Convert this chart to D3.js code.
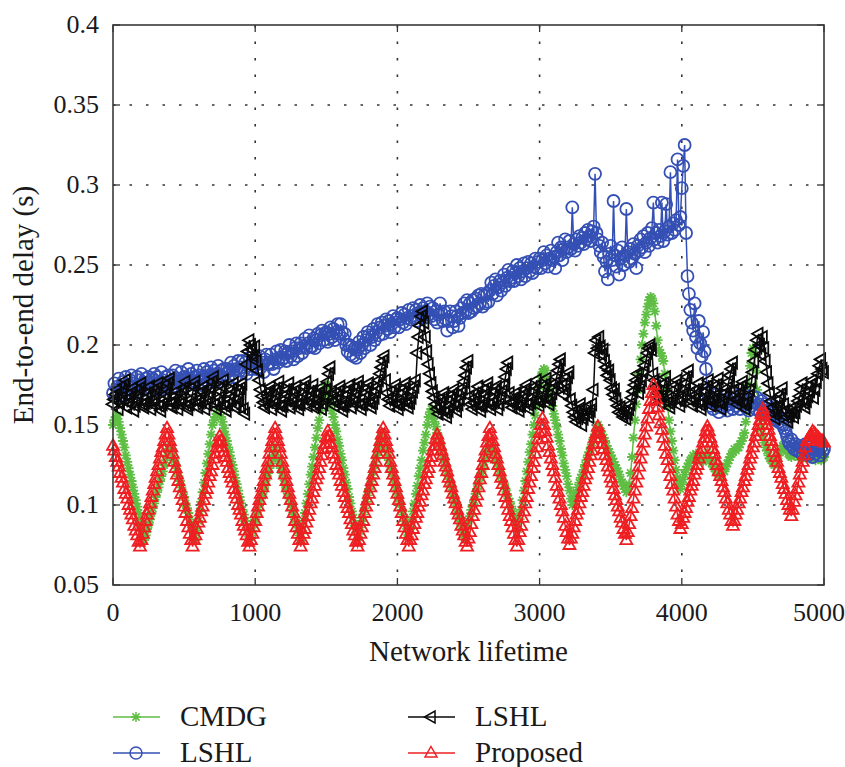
<!DOCTYPE html>
<html>
<head>
<meta charset="utf-8">
<script src="https://cdn.jsdelivr.net/npm/d3@7"></script>
<style>
  body { margin: 0; background: #fff; }
</style>
</head>
<body>
<svg id="chart" width="845" height="767"></svg>
<script>
// sampled every 10 time units, 0..5000
const xValues = d3.range(0, 5001, 10);

const xTicks = [0, 1000, 2000, 3000, 4000, 5000];
const yTicks = [0.05, 0.1, 0.15, 0.2, 0.25, 0.3, 0.35, 0.4];
const yTickLabels = ["0.05", "0.1", "0.15", "0.2", "0.25", "0.3", "0.35", "0.4"];

const seriesNames = ["CMDG", "LSHL", "LSHL", "Proposed"];

const cmdg = [
  .150, .153, .155, .156, .152, .148, .144, .140, .136, .131,
  .127, .123, .119, .115, .111, .107, .103, .099, .095, .090,
  .086, .082, .078, .081, .085, .088, .091, .095, .098, .101,
  .105, .108, .111, .115, .118, .121, .125, .128, .131, .135,
  .138, .135, .131, .128, .125, .121, .118, .115, .111, .108,
  .105, .101, .098, .095, .091, .088, .085, .081, .078, .084,
  .090, .096, .102, .108, .114, .120, .126, .132, .138, .144,
  .150, .153, .155, .157, .158, .158, .155, .152, .148, .144,
  .140, .136, .133, .129, .125, .121, .117, .113, .109, .105,
  .101, .097, .094, .090, .086, .082, .078, .081, .084, .088,
  .091, .094, .097, .101, .104, .107, .110, .113, .117, .120,
  .123, .126, .129, .133, .136, .133, .129, .126, .123, .120,
  .117, .113, .110, .107, .104, .101, .097, .094, .091, .088,
  .084, .081, .078, .084, .090, .095, .101, .107, .113, .119,
  .124, .130, .136, .142, .148, .153, .159, .165, .170, .173,
  .175, .171, .168, .164, .159, .155, .150, .146, .141, .137,
  .132, .128, .123, .119, .114, .110, .105, .101, .096, .092,
  .087, .083, .078, .082, .086, .090, .094, .098, .102, .106,
  .110, .113, .117, .121, .125, .129, .133, .137, .141, .145,
  .142, .138, .135, .131, .128, .124, .121, .118, .114, .111,
  .107, .104, .101, .097, .094, .090, .087, .083, .080, .085,
  .091, .096, .101, .107, .112, .118, .123, .128, .134, .139,
  .144, .150, .155, .158, .160, .156, .152, .149, .145, .142,
  .138, .135, .131, .128, .125, .121, .118, .114, .111, .107,
  .104, .101, .097, .094, .090, .087, .083, .080, .083, .087,
  .090, .093, .097, .100, .103, .107, .110, .113, .117, .120,
  .123, .127, .130, .133, .137, .140, .137, .135, .132, .129,
  .126, .124, .121, .118, .115, .113, .110, .107, .104, .102,
  .099, .096, .093, .091, .088, .085, .091, .097, .103, .109,
  .115, .121, .127, .133, .138, .144, .150, .156, .162, .168,
  .174, .180, .183, .185, .184, .179, .175, .171, .166, .162,
  .157, .153, .149, .144, .140, .135, .131, .126, .122, .118,
  .113, .109, .104, .100, .103, .106, .108, .111, .114, .117,
  .119, .122, .125, .128, .131, .133, .136, .139, .142, .144,
  .147, .150, .148, .146, .144, .142, .140, .137, .135, .133,
  .131, .129, .127, .125, .123, .121, .119, .116, .114, .112,
  .110, .108, .110, .113, .120, .130, .142, .153, .163, .172,
  .182, .191, .200, .207, .214, .219, .224, .228, .230, .229,
  .226, .221, .212, .203, .197, .195, .193, .190, .182, .172,
  .162, .153, .146, .140, .134, .128, .122, .117, .113, .110,
  .113, .116, .119, .122, .124, .126, .128, .129, .131, .130,
  .132, .131, .129, .130, .128, .127, .129, .131, .133, .130,
  .128, .126, .124, .123, .121, .120, .119, .118, .120, .122,
  .121, .124, .126, .128, .130, .132, .133, .135, .134, .136,
  .136, .138, .140, .142, .145, .152, .162, .175, .187, .195,
  .198, .194, .184, .172, .162, .154, .148, .143, .139, .136,
  .134, .131, .129, .128, .126, .125, .127, .129, .131, .133,
  .135, .137, .138, .136, .134, .132, .131, .130, .132, .134,
  .133, .131, .130, .132, .131, .129, .130, .131, .132, .130,
  .129, .131, .130, .129, .128, .130, .131, .129, .128, .129,
  .130
];

const lshlBlue = [
  .170, .176, .168, .174, .179, .173, .169, .177, .174, .180,
  .175, .172, .178, .181, .173, .176, .170, .180, .175, .178,
  .182, .175, .172, .179, .174, .180, .177, .171, .179, .182,
  .175, .180, .172, .177, .183, .178, .173, .180, .175, .181,
  .176, .173, .181, .178, .184, .174, .179, .176, .183, .178,
  .180, .174, .179, .185, .177, .182, .176, .180, .177, .184,
  .178, .181, .175, .180, .185, .178, .183, .177, .181, .186,
  .179, .184, .177, .182, .187, .180, .184, .179, .185, .182,
  .185, .179, .184, .189, .182, .187, .180, .185, .190, .184,
  .186, .190, .184, .189, .182, .187, .192, .185, .190, .187,
  .191, .185, .188, .193, .186, .189, .183, .191, .194, .188,
  .189, .194, .188, .185, .191, .196, .189, .192, .197, .191,
  .192, .196, .190, .195, .200, .193, .196, .191, .198, .201,
  .193, .198, .201, .195, .199, .204, .198, .201, .206, .199,
  .199, .204, .198, .203, .207, .201, .206, .209, .203, .207,
  .208, .202, .207, .211, .205, .210, .203, .208, .213, .207,
  .213, .208, .204, .207, .200, .196, .200, .194, .199, .193,
  .198, .192, .197, .202, .195, .200, .205, .198, .203, .208,
  .206, .200, .205, .210, .203, .208, .213, .206, .211, .214,
  .207, .212, .216, .210, .215, .208, .213, .218, .211, .216,
  .217, .211, .216, .220, .214, .219, .213, .217, .222, .216,
  .218, .223, .217, .222, .215, .220, .225, .218, .223, .217,
  .221, .226, .219, .224, .218, .223, .216, .221, .214, .219,
  .226, .220, .215, .221, .216, .209, .215, .221, .218, .211,
  .215, .221, .218, .212, .217, .223, .220, .226, .221, .228,
  .220, .226, .221, .228, .223, .229, .224, .231, .226, .232,
  .224, .231, .226, .232, .227, .234, .239, .232, .237, .241,
  .231, .236, .240, .234, .239, .244, .237, .242, .247, .240,
  .242, .246, .240, .245, .250, .243, .248, .241, .246, .251,
  .243, .248, .252, .246, .251, .245, .249, .254, .248, .252,
  .254, .248, .253, .258, .251, .256, .249, .254, .259, .253,
  .255, .248, .258, .264, .256, .261, .253, .260, .266, .258,
  .261, .265, .260, .286, .263, .259, .266, .262, .268, .264,
  .267, .263, .270, .266, .272, .268, .265, .271, .274, .307,
  .270, .266, .262, .258, .264, .255, .246, .252, .241, .257,
  .262, .253, .290, .256, .249, .259, .244, .254, .261, .250,
  .256, .285, .258, .252, .260, .254, .263, .257, .248, .262,
  .259, .266, .261, .268, .258, .264, .270, .262, .267, .273,
  .289, .266, .270, .264, .272, .268, .289, .265, .271, .288,
  .269, .274, .308, .270, .276, .272, .278, .316, .275, .280,
  .298, .312, .325, .270, .243, .232, .222, .214, .209, .226,
  .205, .198, .215, .201, .193, .208, .196, .185, .170, .166,
  .162, .167, .160, .164, .169, .163, .158, .166, .161, .165,
  .168, .162, .159, .165, .163, .170, .160, .166, .162, .168,
  .164, .160, .167, .163, .169, .161, .165, .159, .166, .162,
  .168, .164, .160, .167, .163, .158, .165, .161, .157, .163,
  .159, .162, .156, .160, .155, .158, .153, .157, .152, .155,
  .151, .150, .148, .146, .143, .140, .138, .141, .137, .135,
  .138, .134, .137, .133, .136, .132, .135, .138, .134, .131,
  .136, .133, .130, .135, .132, .137, .134, .131, .136, .133,
  .135
];

const lshlBlack = [
  .163, .166, .169, .172, .160, .164, .167, .171, .175, .178,
  .161, .164, .167, .170, .173, .159, .162, .166, .169, .173,
  .176, .163, .161, .164, .167, .170, .174, .160, .163, .166,
  .170, .173, .176, .162, .159, .163, .166, .169, .172, .176,
  .179, .164, .161, .164, .168, .171, .160, .163, .166, .170,
  .173, .177, .162, .160, .163, .166, .170, .174, .177, .165,
  .161, .164, .167, .171, .174, .160, .163, .167, .170, .173,
  .177, .180, .163, .160, .164, .167, .171, .174, .178, .162,
  .159, .163, .166, .169, .172, .176, .161, .163, .166, .170,
  .173, .176, .160, .157, .188, .196, .203, .200, .197, .193,
  .199, .190, .184, .178, .172, .168, .164, .161, .165, .168,
  .171, .174, .160, .163, .166, .170, .173, .177, .162, .159,
  .162, .166, .169, .172, .176, .161, .164, .167, .171, .174,
  .163, .160, .163, .167, .170, .174, .177, .162, .165, .168,
  .171, .175, .161, .163, .166, .170, .173, .160, .163, .167,
  .172, .177, .182, .186, .170, .165, .162, .165, .168, .171,
  .174, .162, .159, .162, .165, .169, .172, .175, .161, .164,
  .167, .170, .174, .177, .163, .160, .163, .167, .170, .173,
  .176, .164, .161, .164, .167, .171, .174, .178, .182, .186,
  .190, .193, .178, .170, .166, .162, .165, .168, .172, .175,
  .163, .160, .163, .166, .170, .173, .176, .164, .161, .164,
  .167, .171, .174, .178, .195, .205, .212, .218, .221, .214,
  .205, .196, .188, .182, .176, .171, .167, .163, .160, .157,
  .161, .164, .167, .170, .158, .155, .159, .162, .166, .169,
  .172, .162, .159, .163, .166, .170, .173, .177, .181, .186,
  .190, .168, .163, .160, .164, .167, .170, .174, .162, .159,
  .162, .166, .169, .173, .176, .163, .160, .164, .167, .171,
  .174, .160, .163, .167, .171, .175, .180, .185, .189, .170,
  .164, .161, .164, .167, .170, .162, .159, .162, .166, .169,
  .172, .175, .163, .160, .164, .167, .171, .174, .178, .165,
  .162, .165, .168, .172, .175, .179, .166, .163, .166, .170,
  .173, .176, .180, .184, .188, .191, .175, .169, .172, .176,
  .180, .183, .166, .162, .158, .155, .152, .156, .160, .163,
  .150, .154, .157, .161, .158, .155, .159, .163, .172, .195,
  .203, .198, .205, .199, .194, .197, .190, .186, .181, .184,
  .178, .173, .169, .172, .166, .162, .158, .161, .157, .155,
  .158, .154, .157, .160, .163, .167, .171, .175, .178, .182,
  .170, .174, .178, .183, .187, .191, .195, .198, .200, .197,
  .182, .178, .174, .170, .167, .164, .168, .172, .176, .180,
  .168, .164, .161, .165, .168, .172, .175, .178, .166, .162,
  .165, .169, .172, .176, .180, .184, .170, .165, .162, .166,
  .169, .172, .176, .163, .160, .164, .167, .171, .174, .178,
  .165, .162, .165, .168, .172, .175, .179, .164, .160, .163,
  .167, .170, .173, .177, .181, .185, .189, .172, .166, .163,
  .166, .170, .174, .177, .163, .160, .164, .168, .172, .177,
  .183, .190, .197, .203, .207, .200, .194, .205, .198, .190,
  .183, .176, .170, .165, .161, .157, .154, .158, .162, .166,
  .169, .173, .163, .159, .155, .152, .156, .160, .158, .155,
  .158, .162, .165, .168, .172, .176, .164, .161, .165, .168,
  .171, .175, .178, .167, .172, .177, .182, .187, .191, .185,
  .183
];

const proposed = [
  .137, .134, .130, .127, .124, .120, .117, .114, .110, .107,
  .104, .100, .097, .094, .091, .087, .084, .081, .077, .074,
  .078, .082, .086, .090, .094, .097, .101, .105, .109, .113,
  .117, .121, .125, .129, .133, .136, .140, .144, .148, .144,
  .140, .136, .132, .127, .123, .119, .115, .111, .107, .103,
  .099, .095, .090, .086, .082, .078, .074, .078, .081, .085,
  .089, .092, .096, .099, .103, .107, .110, .114, .118, .121,
  .125, .129, .132, .136, .139, .143, .140, .136, .133, .130,
  .127, .123, .120, .117, .114, .110, .107, .104, .100, .097,
  .094, .090, .087, .084, .081, .077, .074, .078, .082, .086,
  .090, .095, .099, .103, .107, .111, .115, .119, .123, .127,
  .132, .136, .140, .144, .148, .144, .140, .136, .132, .127,
  .123, .119, .115, .111, .107, .103, .099, .095, .090, .086,
  .082, .078, .074, .078, .082, .085, .089, .093, .097, .101,
  .104, .108, .112, .116, .119, .123, .127, .131, .135, .138,
  .142, .146, .143, .139, .136, .132, .129, .125, .122, .119,
  .115, .112, .108, .105, .101, .098, .095, .091, .088, .084,
  .081, .077, .074, .078, .082, .086, .090, .095, .099, .103,
  .107, .111, .115, .119, .123, .127, .132, .136, .140, .144,
  .148, .144, .140, .136, .132, .127, .123, .119, .115, .111,
  .107, .103, .099, .095, .090, .086, .082, .078, .074, .078,
  .081, .085, .088, .092, .095, .099, .102, .106, .109, .113,
  .116, .120, .123, .127, .130, .134, .137, .141, .144, .141,
  .137, .134, .131, .127, .124, .121, .117, .114, .111, .107,
  .104, .101, .097, .094, .091, .087, .084, .081, .077, .074,
  .079, .083, .088, .093, .097, .102, .106, .111, .116, .120,
  .125, .130, .134, .139, .143, .148, .144, .140, .136, .132,
  .129, .125, .121, .117, .113, .109, .105, .101, .097, .093,
  .090, .086, .082, .078, .074, .078, .083, .087, .092, .096,
  .101, .105, .110, .114, .118, .123, .127, .132, .136, .141,
  .145, .150, .154, .150, .146, .142, .137, .133, .129, .125,
  .121, .117, .112, .108, .104, .100, .096, .092, .087, .083,
  .079, .075, .079, .082, .086, .090, .094, .097, .101, .105,
  .108, .112, .116, .119, .123, .127, .131, .134, .138, .142,
  .145, .149, .145, .142, .138, .135, .131, .128, .124, .121,
  .117, .114, .110, .106, .103, .099, .096, .092, .089, .085,
  .082, .078, .083, .088, .093, .098, .104, .109, .114, .119,
  .124, .129, .134, .139, .144, .149, .154, .160, .165, .170,
  .175, .170, .166, .161, .156, .151, .147, .142, .137, .132,
  .128, .123, .118, .113, .109, .104, .099, .094, .090, .085,
  .088, .092, .095, .098, .102, .105, .109, .112, .115, .119,
  .122, .125, .129, .132, .135, .139, .142, .146, .149, .146,
  .142, .139, .135, .132, .128, .125, .121, .118, .115, .111,
  .108, .104, .101, .097, .094, .090, .087, .090, .094, .097,
  .101, .104, .108, .111, .115, .118, .122, .125, .129, .132,
  .136, .139, .143, .146, .150, .153, .157, .160, .157, .153,
  .150, .147, .143, .140, .137, .133, .130, .127, .123, .120,
  .117, .113, .110, .107, .103, .100, .097, .093, .097, .102,
  .106, .110, .114, .119, .123, .127, .131, .136, .140, .141,
  .143, .144, .146, .145, .144, .143, .142, .141, .140, .140,
  .139
];

const colors = { cmdg: "#5fbe44", blue: "#3550b4", black: "#0a0a0a", red: "#ee1f23" };
const FONT = '"Liberation Serif"';

const W = 845, H = 767;
const margin = { top: 25, right: 21, bottom: 182, left: 113 };
const width = W - margin.left - margin.right;
const height = H - margin.top - margin.bottom;

const svg = d3.select("#chart");
const g = svg.append("g").attr("transform", `translate(${margin.left},${margin.top})`);

const x = d3.scaleLinear().domain([0, 5000]).range([0, width]);
const y = d3.scaleLinear().domain([0.05, 0.4]).range([height, 0]);

// dotted grid
const grid = g.append("g").attr("stroke", "#333").attr("stroke-width", 1.6)
  .attr("stroke-dasharray", "2.5,14");
grid.selectAll(".gx").data(xTicks.slice(1, -1)).enter().append("line")
  .attr("x1", d => x(d)).attr("x2", d => x(d)).attr("y1", 0).attr("y2", height);
grid.selectAll(".gy").data(yTicks.slice(1, -1)).enter().append("line")
  .attr("x1", 0).attr("x2", width).attr("y1", d => y(d)).attr("y2", d => y(d));

// inward ticks on all four sides
const tickLen = 7;
const ticks = g.append("g").attr("stroke", "#333").attr("stroke-width", 1.3);
xTicks.forEach(t => {
  ticks.append("line").attr("x1", x(t)).attr("x2", x(t)).attr("y1", height).attr("y2", height - tickLen);
  ticks.append("line").attr("x1", x(t)).attr("x2", x(t)).attr("y1", 0).attr("y2", tickLen);
});
yTicks.forEach(t => {
  ticks.append("line").attr("x1", 0).attr("x2", tickLen).attr("y1", y(t)).attr("y2", y(t));
  ticks.append("line").attr("x1", width).attr("x2", width - tickLen).attr("y1", y(t)).attr("y2", y(t));
});

// markers
const symbolPath = {
  star: "M-5,0H5M0,-5V5M-3.6,-3.6L3.6,3.6M-3.6,3.6L3.6,-3.6",
  tri: "M0,-6.5L6,4L-6,4Z",
  triLeft: "M-6.5,0L4,-6L4,6Z"
};

const series = [
  { values: cmdg, color: colors.cmdg, marker: "star" },
  { values: lshlBlue, color: colors.blue, marker: "circle" },
  { values: lshlBlack, color: colors.black, marker: "triLeft" },
  { values: proposed, color: colors.red, marker: "tri" }
];

const line = d3.line().x((d, i) => x(xValues[i])).y(d => y(d));

function drawMarker(sel, s) {
  if (s.marker === "circle") {
    sel.append("circle").attr("r", 6);
  } else {
    sel.append("path").attr("d", symbolPath[s.marker]);
  }
}

series.forEach(s => {
  const sg = g.append("g");
  sg.append("path").datum(s.values)
    .attr("d", line).attr("fill", "none")
    .attr("stroke", s.color).attr("stroke-width", 1.5);
  const pts = sg.append("g").attr("fill", "none").attr("stroke", s.color).attr("stroke-width", 1.8);
  s.values.forEach((v, i) => {
    const m = pts.append("g").attr("transform", `translate(${x(xValues[i])},${y(v)})`);
    drawMarker(m, s);
  });
});

// frame
g.append("rect").attr("width", width).attr("height", height)
  .attr("fill", "none").attr("stroke", "#3a3a3a").attr("stroke-width", 1.6);

// tick labels
g.selectAll(".xl").data(xTicks).enter().append("text")
  .attr("x", (d, i) => i === xTicks.length - 1 ? x(d) + 21 : x(d))
  .attr("y", height + 36)
  .attr("text-anchor", (d, i) => i === xTicks.length - 1 ? "end" : "middle")
  .style("font-family", FONT).attr("font-size", 26).attr("fill", "#1a1a1a").text(d => d);
g.selectAll(".yl").data(yTicks).enter().append("text")
  .attr("x", -14).attr("y", d => y(d) + 8)
  .attr("text-anchor", "end").style("font-family", FONT).attr("font-size", 26).attr("fill", "#1a1a1a")
  .text((d, i) => yTickLabels[i]);

// axis titles
g.append("text").attr("x", width / 2).attr("y", height + 76)
  .attr("text-anchor", "middle").style("font-family", FONT).attr("font-size", 29).attr("fill", "#1a1a1a")
  .text("Network lifetime");
svg.append("text").attr("transform", `translate(33,${margin.top + height / 2}) rotate(-90)`)
  .attr("text-anchor", "middle").style("font-family", FONT).attr("font-size", 29).attr("fill", "#1a1a1a")
  .text("End-to-end delay (s)");

// legend (two columns)
const legendItems = [
  { s: series[0], name: seriesNames[0], lx: 113, ly: 717 },
  { s: series[1], name: seriesNames[1], lx: 113, ly: 753 },
  { s: series[2], name: seriesNames[2], lx: 408, ly: 717 },
  { s: series[3], name: seriesNames[3], lx: 408, ly: 753 }
];
legendItems.forEach(it => {
  const lg = svg.append("g");
  lg.append("line").attr("x1", it.lx).attr("x2", it.lx + 47)
    .attr("y1", it.ly).attr("y2", it.ly)
    .attr("stroke", it.s.color).attr("stroke-width", 1.5);
  const m = lg.append("g").attr("transform", `translate(${it.lx + 23},${it.ly})`)
    .attr("fill", "none").attr("stroke", it.s.color).attr("stroke-width", 1.5);
  drawMarker(m, it.s);
  lg.append("text").attr("x", it.lx + 67).attr("y", it.ly + 9)
    .style("font-family", FONT).attr("font-size", 29).attr("fill", "#1a1a1a").text(it.name);
});
</script>
</body>
</html>
